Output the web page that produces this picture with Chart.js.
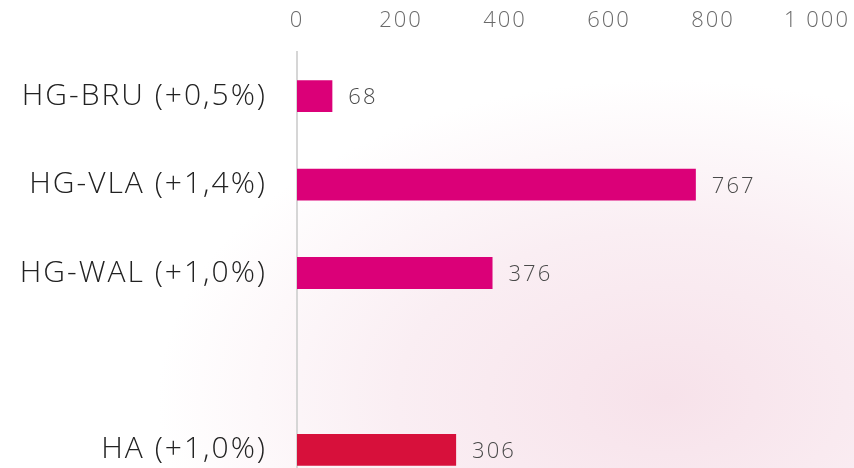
<!DOCTYPE html>
<html><head><meta charset="utf-8">
<script src="https://cdn.jsdelivr.net/npm/chart.js@4/dist/chart.umd.min.js"></script>
<style>
html,body{margin:0;padding:0;width:854px;height:468px;overflow:hidden;
background:radial-gradient(ellipse 70% 80% at 78% 85%, #f7e2ea 0%, #faeef3 45%, #ffffff 85%);}
#wrap{position:relative;width:854px;height:542px;}
</style></head><body>
<div id="wrap"><canvas id="c"></canvas></div>
<script>
const categories = ['HG-BRU (+0,5%)', 'HG-VLA (+1,4%)', 'HG-WAL (+1,0%)', '', 'HA (+1,0%)'];
const values = [68, 767, 376, null, 306];
const barColors = ['#db0078', '#db0078', '#db0078', '#db0078', '#d7103b'];
const xTicks = [0, 200, 400, 600, 800, 1000];

const FONT = "'Open Sans', sans-serif";

const spacing = {
  id: 'spacing',
  beforeDraw(chart) { chart.ctx.letterSpacing = '2px'; }
};

const valueLabels = {
  id: 'valueLabels',
  afterDatasetsDraw(chart) {
    const ctx = chart.ctx;
    const meta = chart.getDatasetMeta(0);
    ctx.save();
    ctx.font = '300 22px ' + FONT;
    ctx.fillStyle = '#4a4a4a';
    ctx.textAlign = 'left';
    ctx.textBaseline = 'middle';
    meta.data.forEach((el, i) => {
      const v = values[i];
      if (v === null) return;
      ctx.fillText(String(v), el.x + 16, el.y + 2);
    });
    ctx.restore();
  }
};

new Chart(document.getElementById('c'), {
  type: 'bar',
  data: {
    labels: categories,
    datasets: [{
      data: values,
      backgroundColor: barColors,
      barPercentage: 0.36,
      categoryPercentage: 1.0
    }]
  },
  options: {
    indexAxis: 'y',
    responsive: true,
    maintainAspectRatio: false,
    animation: false,
    layout: { padding: { left: 0, right: 37, top: 0, bottom: 0 } },
    plugins: { legend: { display: false }, tooltip: { enabled: false } },
    scales: {
      x: {
        position: 'top',
        min: 0, max: 1000,
        afterBuildTicks(scale) { scale.ticks = xTicks.map(v => ({ value: v })); },
        afterFit(scale) { scale.height = 52; scale.paddingLeft = 0; scale.paddingRight = 0; },
        grid: { display: false, drawTicks: false },
        border: { display: false },
        ticks: {
          padding: 18,
          color: '#6a6a6a',
          font: { family: FONT, size: 22, weight: '300' },
          callback: v => String(v).replace(/\B(?=(\d{3})+(?!\d))/g, '\u00a0')
        }
      },
      y: {
        afterFit(scale) { scale.width = 297; },
        grid: { display: false, drawTicks: false },
        border: { display: true, color: '#d6d6d6', width: 2 },
        ticks: {
          padding: 30,
          color: '#222',
          font: { family: FONT, size: 30, weight: '300' }
        }
      }
    }
  },
  plugins: [spacing, valueLabels]
});
</script>
</body></html>
